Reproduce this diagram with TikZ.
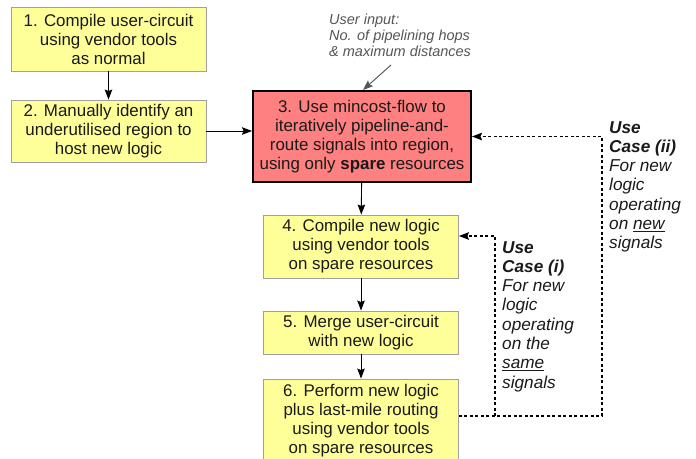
\documentclass[tikz,border=0pt]{standalone}
\usepackage{fontspec}
\setmainfont{Liberation Sans}
\usetikzlibrary{arrows.meta}
\definecolor{stepfill}{HTML}{FFFF99}
\definecolor{stepline}{HTML}{A0A0A0}
\definecolor{keyfill}{HTML}{FF8080}
\definecolor{notegrey}{HTML}{555555}
\definecolor{inktext}{HTML}{1A1A1A}
\tikzset{
  stepbox/.style={draw=stepline, line width=0.9pt, fill=stepfill, text=inktext,
    align=center, inner sep=0pt, minimum width=195pt,
    font=\fontsize{16.9}{19}\selectfont},
  keybox/.style={stepbox, draw=black, line width=2pt, fill=keyfill},
  flow/.style={-{Stealth[length=10pt,width=7.5pt,inset=1.5pt]}, line width=0.9pt, black},
  usecase/.style={-{Stealth[length=10pt,width=7.5pt,inset=1.5pt]}, line width=1.4pt,
    dash pattern=on 3pt off 2.5pt, black},
  casenote/.style={anchor=north west, align=left, inner sep=0pt, text=inktext,
    font=\fontsize{17.2}{19.3}\selectfont\itshape},
}
\begin{document}
\begin{tikzpicture}[x=1pt, y=-1pt]
\useasboundingbox (0,0) rectangle (696,458);

% process steps
\node[stepbox, minimum height=64pt] (b1) at (108.5,39)
  {1. Compile user-circuit\\using vendor tools\\as normal};
\node[stepbox, minimum height=62pt] (b2) at (108.5,131)
  {2. Manually identify an\\underutilised region to\\host new logic};
\node[keybox, minimum width=218pt, minimum height=91pt] (b3) at (362,136.5)
  {3. Use mincost-flow to\\iteratively pipeline-and-\\route signals into region,\\using only \textbf{spare} resources};
\node[stepbox, minimum height=63pt] (b4) at (361,246.5)
  {4. Compile new logic\\using vendor tools\\on spare resources};
\node[stepbox, minimum height=43pt] (b5) at (361,332.5)
  {5. Merge user-circuit\\with new logic};
\node[stepbox, minimum height=83pt] (b6) at (361,420.5)
  {6. Perform new logic\\plus last-mile routing\\using vendor tools\\on spare resources};

% user input annotation
\node[anchor=north west, align=left, inner sep=0pt, text=notegrey,
  font=\fontsize{14.5}{16}\selectfont\itshape] (ui) at (329,14)
  {User input:\\No. of pipelining hops\\\& maximum distances};
\coordinate (uiend) at (391,65);
\draw[flow, draw=notegrey, fill=notegrey] (uiend) -- ([xshift=1pt]b3.north);

% main flow
\draw[flow] (b1) -- (b2);
\draw[flow] (b2.east) -- (b3.west |- b2.east);
\draw[flow] (b3) -- (b4);
\draw[flow] (b4) -- (b5);
\draw[flow] (b5) -- (b6);

% feedback loops
\coordinate (j1) at (495,416);
\coordinate (j2) at (602,416);
\draw[usecase] (b6.east |- j1) -- (j2) |- (b3.east);
\draw[usecase] (j1) |- ([yshift=10.5pt]b4.east);

% use case notes
\node[casenote] (uc2) at (609,121)
  {\textbf{Use}\\\textbf{Case (ii)}\\For new\\logic\\operating\\on \underline{new}\\signals};
\node[casenote] (uc1) at (502,241)
  {\textbf{Use}\\\textbf{Case (i)}\\For new\\logic\\operating\\on the\\\underline{same}\\signals};
\end{tikzpicture}
\end{document}
